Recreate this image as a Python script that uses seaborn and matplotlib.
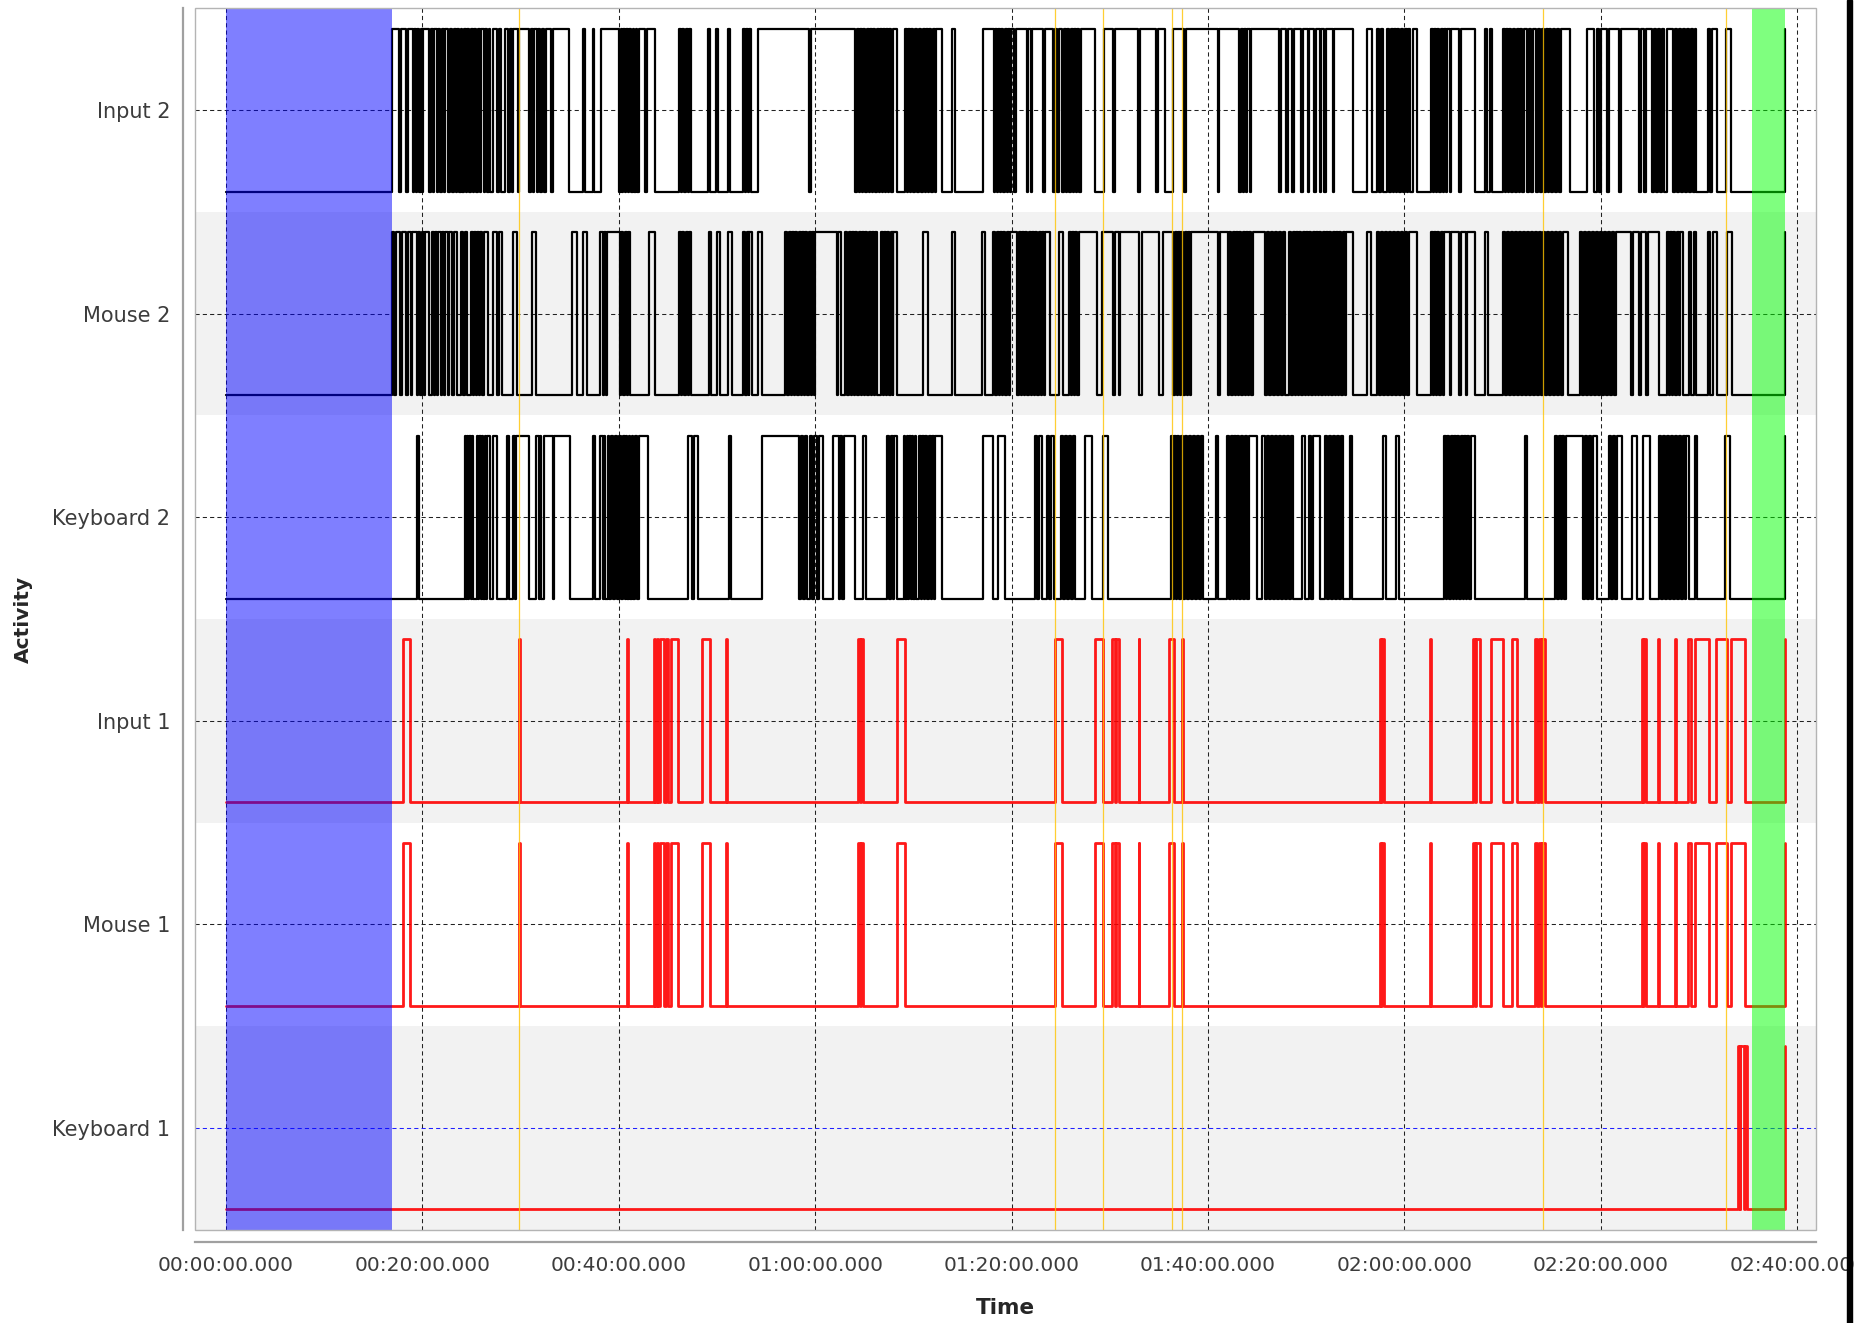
import matplotlib
matplotlib.use("Agg")
import matplotlib.pyplot as plt
from matplotlib.patches import Rectangle
import pandas as pd
import seaborn as sns

# ---------------------------------------------------------------- data
# activity channels, listed bottom to top
categories = ["Keyboard 1", "Mouse 1", "Input 1", "Keyboard 2", "Mouse 2", "Input 2"]
tick_minutes = [0, 20, 40, 60, 80, 100, 120, 140, 160]

session_end = 158.74          # every channel ends with a rise at this time (minutes)
baseline_window = (0.0, 16.89)
closing_window = (155.42, 158.78)
event_marks = [29.87, 84.39, 89.30, 96.37, 97.32, 134.15, 152.74]

# "on" intervals (start, end) in minutes for each channel
input2_on = [
    (16.89, 17.63), (17.85, 18.30), (18.58, 19.03), (19.16, 19.37), (19.50, 19.70), (19.84, 20.01),
    (20.11, 20.66), (20.86, 21.06), (21.20, 21.47), (21.60, 21.85), (22.01, 22.22), (22.35, 22.66),
    (22.79, 23.03), (23.20, 23.40), (23.55, 23.75), (23.91, 24.08), (24.22, 24.42),
    (24.56, 24.80), (24.93, 25.17), (25.31, 25.51), (25.64, 25.85), (25.98, 26.26), (26.39, 26.63),
    (26.76, 26.93), (27.17, 27.58), (27.80, 28.05), (28.46, 28.73), (28.90, 29.10), (29.28, 29.75),
    (29.89, 30.87), (31.04, 31.24),
    (31.41, 31.65), (31.79, 31.99), (32.16, 32.40), (32.57, 33.08), (33.31, 34.91), (36.40, 36.54),
    (37.35, 37.49), (38.17, 40.07), (40.20, 40.34), (40.48, 40.65), (40.78, 40.95), (41.09, 41.29),
    (41.43, 41.60), (41.73, 41.90), (42.04, 42.68), (42.85, 43.73), (46.11, 46.31), (46.45, 46.69),
    (46.86, 47.06), (47.20, 47.33), (49.10, 49.30), (49.91, 50.08), (51.13, 51.34), (52.63, 52.83),
    (52.97, 53.17), (53.31, 53.51), (54.22, 59.38), (59.55, 64.10), (64.23, 64.44), (64.57, 64.78),
    (64.91, 65.12), (65.25, 65.46), (65.59, 65.80), (65.93, 66.14), (66.27, 66.47), (66.61, 66.78),
    (66.91, 67.08), (67.22, 67.42), (67.56, 67.76), (67.90, 68.37), (69.15, 69.32), (69.46, 69.66),
    (69.80, 70.00), (70.14, 70.37), (70.61, 70.82), (70.95, 71.15), (71.29, 71.49), (71.63, 71.83),
    (71.97, 72.17), (72.31, 72.89), (73.94, 74.21), (77.06, 78.21), (78.35, 78.52), (78.66, 78.83),
    (78.96, 79.16), (79.30, 79.50), (79.64, 79.84), (79.98, 80.25), (80.45, 81.54), (81.71, 81.95),
    (82.12, 83.17), (83.44, 84.26), (84.46, 84.66), (84.87, 85.14), (85.34, 85.54), (85.68, 85.88),
    (86.02, 86.22), (86.36, 86.56), (86.70, 86.90), (87.04, 88.50), (89.41, 90.36), (90.57, 92.91),
    (93.08, 94.71), (94.88, 95.66), (96.47, 97.56), (97.76, 100.99), (101.16, 103.19), (103.40, 103.57),
    (103.70, 103.87), (104.01, 104.28), (104.42, 107.27), (107.47, 107.95), (108.15, 108.56),
    (108.76, 109.47), (109.64, 110.15), (110.32, 110.83), (111.00, 111.41), (111.54, 111.85),
    (112.02, 112.70), (112.83, 114.73), (116.16, 116.66), (117.24, 117.44), (117.58, 117.85),
    (118.26, 118.46), (118.60, 118.80), (118.94, 119.14), (119.28, 119.48), (119.62, 119.89),
    (120.02, 120.23), (120.36, 120.57), (120.91, 121.25), (122.67, 122.88), (123.01, 123.21),
    (123.35, 123.55), (123.69, 123.89), (124.03, 124.23), (124.37, 124.64), (124.78, 125.52),
    (125.73, 127.15), (128.17, 128.44), (128.71, 128.92), (130.00, 130.21), (130.34, 130.55),
    (130.68, 130.89), (131.02, 131.22), (131.43, 131.63), (131.77, 131.97), (132.17, 132.45),
    (132.65, 132.85), (133.13, 133.40), (133.60, 133.80), (134.01, 134.21), (134.41, 134.62),
    (134.75, 134.96), (135.16, 135.36), (135.57, 135.77), (135.98, 136.86), (138.56, 139.30),
    (139.57, 139.85), (140.05, 140.59), (140.80, 141.81), (142.02, 143.92), (144.12, 144.39),
    (144.60, 145.21), (145.41, 145.61), (145.82, 146.02), (146.23, 146.43), (146.70, 147.31),
    (147.52, 147.72), (147.92, 148.13), (148.33, 148.53), (148.74, 148.94), (149.14, 149.35),
    (149.55, 149.69), (150.91, 151.11), (151.32, 151.79), (152.74, 153.29),
]

mouse2_on = [
    (16.89, 17.13), (17.33, 17.74), (17.90, 18.35), (18.58, 18.82), (18.99, 19.43), (19.55, 19.80),
    (19.94, 20.15), (20.28, 20.66), (20.96, 21.20), (21.30, 21.54), (21.65, 21.90), (22.01, 22.22),
    (22.35, 22.62), (22.76, 23.00), (23.20, 23.55), (23.98, 24.19),
    (24.39, 24.59), (24.93, 25.14), (25.27, 25.47), (25.61, 25.81), (25.88, 26.09), (26.30, 26.70),
    (27.24, 27.58), (27.80, 28.10),
    (29.21, 29.62), (31.14, 31.58), (35.22, 35.72), (36.40, 36.74), (38.10, 38.37), (38.51, 38.71),
    (38.85, 40.14), (40.27, 40.48), (40.61, 40.82), (40.95, 41.16), (43.06, 43.73), (46.11, 46.31),
    (46.45, 46.65), (46.86, 47.06), (47.20, 47.33), (49.17, 49.44), (49.98, 50.32), (51.17, 51.51),
    (52.69, 52.90), (53.03, 53.24), (53.31, 53.54), (54.22, 54.60), (56.97, 57.17), (57.31, 57.51),
    (57.65, 57.85), (57.99, 58.19), (58.33, 58.53), (58.67, 58.87), (59.01, 59.21), (59.35, 59.55),
    (59.69, 59.89), (60.03, 62.20), (62.33, 62.61), (63.08, 63.28), (63.42, 63.62), (63.76, 63.96),
    (64.10, 64.30), (64.44, 64.64), (64.78, 64.98), (65.12, 65.32), (65.46, 65.66), (65.80, 66.00),
    (66.14, 66.34), (66.67, 66.88), (67.01, 67.22), (67.35, 67.56), (67.69, 67.90), (67.96, 68.30),
    (71.02, 71.53), (73.90, 74.24), (76.99, 77.26), (78.15, 78.35), (78.49, 78.69), (78.83, 79.03),
    (79.16, 79.37), (79.50, 79.71), (79.84, 80.52), (80.73, 80.93), (81.06, 81.27), (81.40, 81.61),
    (81.74, 81.95), (82.08, 82.29), (82.42, 82.63), (82.76, 82.97), (83.10, 83.30), (83.44, 83.92),
    (84.87, 85.21), (85.82, 86.02), (86.16, 86.36), (86.50, 86.70), (86.83, 88.67), (89.21, 90.36),
    (90.57, 90.91), (91.04, 93.01), (93.28, 95.05), (95.39, 96.47), (96.61, 96.81), (96.95, 97.15),
    (97.29, 97.49), (97.63, 97.83), (97.97, 98.17), (98.31, 101.02), (101.23, 102.04), (102.18, 102.38),
    (102.52, 102.72), (102.85, 103.06), (103.19, 103.40), (103.53, 103.74), (103.87, 104.08),
    (104.21, 104.42), (104.55, 105.84), (106.04, 106.25), (106.45, 106.66), (106.86, 107.06),
    (107.27, 107.47), (107.67, 107.88), (108.28, 108.49), (108.62, 108.83), (108.96, 109.17),
    (109.30, 109.51), (109.64, 109.85), (109.98, 110.19), (110.32, 110.53), (110.66, 110.86),
    (111.00, 111.20), (111.34, 111.54), (111.68, 111.88), (112.02, 112.22), (112.36, 112.56),
    (112.70, 112.90), (113.04, 113.24), (113.38, 113.58), (113.72, 113.92), (114.06, 114.80),
    (116.16, 116.56), (117.24, 117.44), (117.65, 117.85), (118.06, 118.26), (118.46, 118.67),
    (118.87, 119.07), (119.28, 119.48), (119.68, 119.89), (120.09, 120.30), (120.50, 121.25),
    (122.67, 122.88), (123.01, 123.21), (123.35, 123.55), (123.69, 123.89), (124.03, 124.64),
    (124.78, 125.59), (125.73, 126.27), (126.41, 127.15), (128.17, 128.51), (130.07, 130.27),
    (130.48, 130.68), (130.88, 131.09), (131.29, 131.50), (131.70, 131.90), (132.11, 132.31),
    (132.51, 132.72), (132.92, 133.12), (133.33, 133.53), (133.74, 133.94), (134.14, 134.35),
    (134.55, 134.75), (134.96, 135.16), (135.37, 135.57), (135.77, 135.98), (136.18, 136.66),
    (137.88, 138.08), (138.28, 138.49), (138.69, 138.90), (139.10, 139.30), (139.51, 139.71),
    (139.91, 140.12), (140.32, 140.52), (140.73, 140.93), (141.13, 141.34), (141.54, 143.10),
    (143.31, 143.92), (144.12, 144.60), (144.80, 145.95), (146.70, 146.90), (147.04, 147.24),
    (147.38, 147.58), (147.72, 147.92), (148.06, 148.40), (148.94, 149.21), (149.48, 149.69),
    (150.91, 151.11), (151.45, 151.79), (152.81, 153.35),
]

keyboard2_on = [
    (19.43, 19.64), (24.35, 24.46), (24.59, 24.69), (24.80, 24.93), (25.07, 25.14), (25.54, 25.68),
    (25.81, 25.95), (26.09, 26.22), (26.36, 26.49), (26.63, 26.90), (27.17, 27.58), (28.60, 28.80),
    (29.21, 29.41), (29.55, 30.84), (31.58, 31.86), (31.99, 32.13), (32.40, 33.28), (33.42, 35.05),
    (37.42, 37.63), (38.10, 38.37), (38.51, 38.64), (38.92, 39.05), (39.25, 39.46), (39.66, 39.87),
    (40.07, 40.27), (40.48, 40.61), (40.75, 40.88), (41.02, 41.16), (41.36, 41.49), (41.70, 41.83),
    (42.04, 42.99), (47.09, 47.43), (47.67, 48.11), (51.20, 51.40), (54.56, 58.33), (58.53, 58.80),
    (59.01, 59.21), (59.48, 59.69), (59.89, 60.16), (60.43, 60.84), (61.86, 62.40), (62.54, 62.74),
    (62.94, 64.03), (64.84, 65.18), (67.35, 67.55), (67.69, 67.89), (68.03, 68.30), (69.05, 69.18),
    (69.32, 69.46), (69.59, 69.73), (69.86, 70.00), (70.13, 70.27), (70.54, 70.75), (70.88, 71.08),
    (71.22, 71.42), (71.56, 71.76), (71.90, 72.10), (72.24, 72.88), (77.13, 78.14), (78.65, 79.33),
    (82.39, 82.62), (82.79, 83.07), (83.57, 83.78), (84.05, 84.32), (85.00, 85.20), (85.41, 85.61),
    (85.81, 86.02), (86.22, 86.46), (87.48, 88.16), (89.34, 89.85), (96.20, 96.40), (96.54, 96.74),
    (96.88, 97.08), (97.22, 97.42), (97.63, 97.83), (98.03, 98.24), (98.44, 98.64), (98.85, 99.05),
    (99.25, 99.53), (100.82, 101.02), (101.97, 102.17), (102.31, 102.51), (102.65, 102.85),
    (102.99, 103.19), (103.33, 103.60), (103.80, 104.01), (104.21, 104.96), (105.50, 105.77),
    (105.98, 106.18), (106.38, 106.59), (106.79, 106.99), (107.20, 107.40), (107.60, 107.81),
    (108.01, 108.22), (108.42, 108.69), (109.57, 109.91), (110.25, 110.46), (110.66, 111.41),
    (111.88, 112.08), (112.28, 112.49), (112.69, 112.89), (113.10, 113.30), (113.50, 113.71),
    (114.45, 114.69), (117.78, 118.12), (119.14, 119.48), (124.03, 124.23), (124.37, 124.57),
    (124.70, 124.91), (125.04, 125.25), (125.38, 125.59), (125.72, 125.93), (126.06, 126.27),
    (126.40, 126.61), (126.74, 127.15), (132.27, 132.51), (135.36, 135.57), (135.70, 135.90),
    (136.04, 136.24), (136.45, 138.21), (138.35, 138.55), (138.76, 138.96), (139.16, 139.57),
    (140.79, 141.00), (141.20, 141.40), (141.61, 142.12), (143.13, 143.64), (144.32, 145.00),
    (145.88, 146.09), (146.29, 146.49), (146.70, 146.90), (147.10, 147.31), (147.51, 147.72),
    (147.92, 148.12), (148.33, 148.53), (148.67, 148.94), (149.58, 149.82), (152.64, 153.15),
]

# Input 1 and Mouse 1 carry the same activity
input1_on = [
    (18.08, 18.72), (29.88, 29.95), (40.88, 40.96), (43.58, 43.72), (43.85, 44.03), (44.18, 44.63),
    (44.82, 45.04), (45.32, 46.01), (48.43, 49.26), (50.91, 50.99), (64.41, 64.54), (64.68, 64.92),
    (68.35, 69.12), (84.37, 85.10), (88.49, 89.31), (90.27, 90.50), (90.63, 90.91), (92.93, 93.01),
    (95.99, 96.54), (97.37, 97.45), (117.46, 117.62), (117.72, 117.87), (122.59, 122.67),
    (126.94, 127.16), (127.30, 127.67), (128.81, 130.05), (130.97, 131.42), (133.25, 133.53),
    (133.67, 133.85), (133.99, 134.26), (144.15, 144.29), (144.43, 144.61), (145.85, 145.93),
    (147.55, 147.63), (148.82, 149.14), (149.55, 151.02), (151.70, 152.85), (153.26, 154.68),
]
mouse1_on = list(input1_on)
keyboard1_on = [(153.98, 154.12), (154.20, 154.55), (154.62, 154.86)]

channel_on = {
    "Input 2": input2_on, "Mouse 2": mouse2_on, "Keyboard 2": keyboard2_on,
    "Input 1": input1_on, "Mouse 1": mouse1_on, "Keyboard 1": keyboard1_on,
}
channel_color = {
    "Input 2": "black", "Mouse 2": "black", "Keyboard 2": "black",
    "Input 1": "#ff0000", "Mouse 1": "#ff0000", "Keyboard 1": "#ff0000",
}


def square_wave(intervals, row, amp=0.4):
    """Turn on-intervals into a step trace around the row's centre line."""
    t, v = [0.0], [row - amp]
    for start, end in intervals:
        t += [start, end]
        v += [row + amp, row - amp]
    t.append(session_end)
    v.append(row + amp)
    return pd.DataFrame({"minutes": t, "level": v})


# ---------------------------------------------------------------- figure
sns.set_style("white")
plt.rcParams["font.family"] = ["DejaVu Sans"]

W, H = 1854, 1323
fig = plt.figure(figsize=(W / 100, H / 100), dpi=100)
left, right, top, bottom = 195.1, 1816.2, 8.3, 1229.7
ax = fig.add_axes([left / W, 1 - bottom / H, (right - left) / W, (bottom - top) / H])
ax.set_xlim(-3.13, 161.92)
ax.set_ylim(-0.5, len(categories) - 0.5)
ax.set_facecolor("white")

# alternating row bands
for i, name in enumerate(categories):
    if i % 2 == 0:
        ax.axhspan(i - 0.5, i + 0.5, color="#f2f2f2", lw=0, zorder=0)

# dashed grid
for m in tick_minutes:
    ax.axvline(m, color="#222222", lw=0.75, ls=(0, (4, 3)), zorder=1)
for i, name in enumerate(categories):
    gc = "#2020ff" if name == "Keyboard 1" else "#222222"
    ax.axhline(i, color=gc, lw=0.75, ls=(0, (4, 3)), zorder=1)

# activity traces
for i, name in enumerate(categories):
    df = square_wave(channel_on[name], i)
    red = channel_color[name] != "black"
    sns.lineplot(data=df, x="minutes", y="level", ax=ax, color=channel_color[name],
                 lw=2.0 if red else 1.6, estimator=None, sort=False,
                 drawstyle="steps-post", zorder=3, alpha=0.9 if red else 1.0)

# highlighted windows and event markers
ax.axvspan(*baseline_window, color=(0, 0, 1), alpha=0.5, lw=0, zorder=4)
ax.axvspan(*closing_window, color=(0, 1, 0), alpha=0.5, lw=0, zorder=4)
for m in event_marks:
    ax.axvline(m, color="#ffc400", lw=0.9, alpha=0.8, zorder=5)

# plot outline
ax.add_patch(Rectangle((0, 0), 1, 1, transform=ax.transAxes, fill=False,
                       edgecolor="#b4b4b4", lw=1.0, zorder=6, clip_on=False))

# axes
for side in ("top", "right"):
    ax.spines[side].set_visible(False)
for side in ("left", "bottom"):
    ax.spines[side].set_position(("outward", 8.5))
    ax.spines[side].set_color("#a0a0a0")
    ax.spines[side].set_linewidth(1.6)

ax.set_yticks(range(len(categories)))
ax.set_yticklabels(categories)
ax.set_xticks(tick_minutes)
ax.set_xticklabels([f"{m // 60:02d}:{m % 60:02d}:00.000" for m in tick_minutes])
ax.tick_params(axis="both", direction="inout", length=5, width=1, color="#a0a0a0",
               labelcolor="#3c3c3c")
ax.tick_params(axis="y", labelsize=15, pad=7)
ax.tick_params(axis="x", labelsize=14.5, pad=8)

ax.set_xlabel("Time", fontsize=15.5, fontweight="bold", va="center")
ax.xaxis.set_label_coords(0.5, (bottom - 1308) / (bottom - top))
ax.set_ylabel("Activity", fontsize=14.5, fontweight="bold", va="center")
ax.yaxis.set_label_coords((23.6 - left) / (right - left), 0.5)

# window edge on the right
fig.add_artist(Rectangle((1846.5 / W, 0), 5.5 / W, 1, transform=fig.transFigure,
                         color="black", zorder=20))

fig.savefig("out.png", dpi=100, facecolor="white")
